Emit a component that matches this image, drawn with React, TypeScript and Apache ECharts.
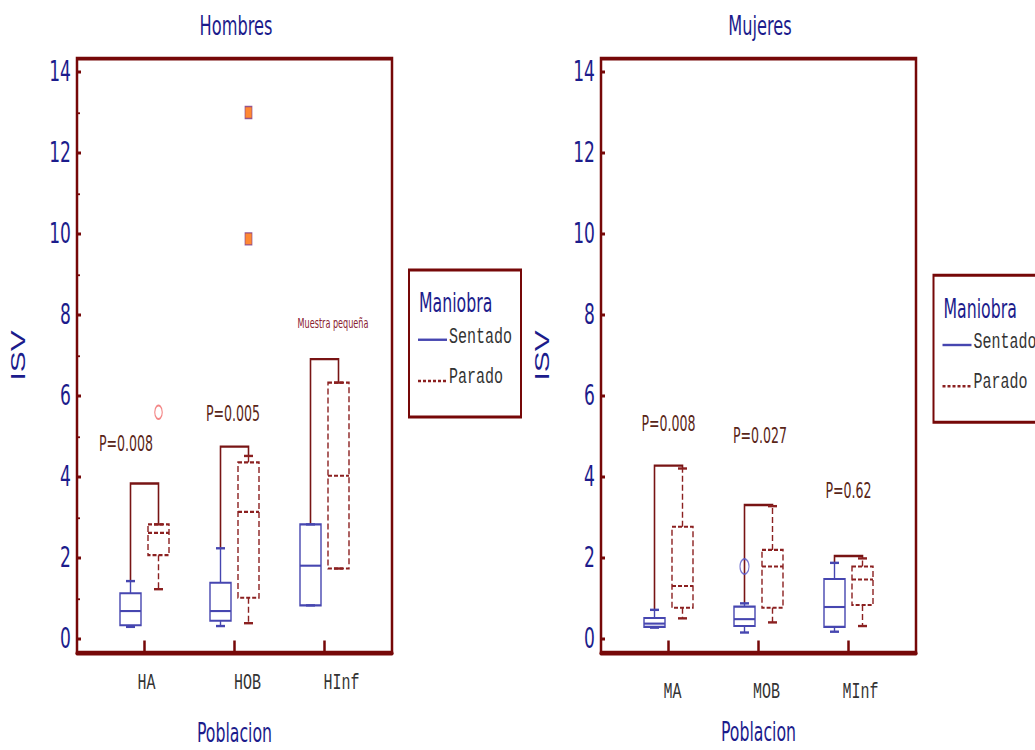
import React, { useEffect, useRef } from 'react';
import * as echarts from 'echarts';

// ---------------- data ----------------
const chartTitles = ['Hombres', 'Mujeres'];
const groupsH = ['HA', 'HOB', 'HInf'];
const groupsM = ['MA', 'MOB', 'MInf'];
const legendTitle = 'Maniobra';
const seriesNames = ['Sentado', 'Parado'];
const yAxisName = 'ISV';
const xAxisName = 'Poblacion';
const yMin = 0;
const yMax = 14;
const yStep = 2;

// [lower whisker, Q1, median, Q3, upper whisker]
const sentadoH = [
  [0.30, 0.34, 0.69, 1.13, 1.43],
  [0.32, 0.45, 0.69, 1.39, 2.24],
  [0.83, 0.83, 1.81, 2.83, 2.83],
];
const paradoH = [
  [1.23, 2.07, 2.62, 2.83, 2.83],
  [0.39, 1.02, 3.14, 4.36, 4.52],
  [1.74, 1.74, 4.03, 6.33, 6.33],
];
const sentadoM = [
  [0.28, 0.30, 0.38, 0.52, 0.72],
  [0.16, 0.32, 0.49, 0.80, 0.88],
  [0.18, 0.30, 0.79, 1.48, 1.88],
];
const paradoM = [
  [0.51, 0.77, 1.31, 2.77, 4.21],
  [0.41, 0.77, 1.79, 2.20, 3.28],
  [0.32, 0.84, 1.47, 1.79, 1.99],
];
// height of the comparison bracket
const bracketH = [3.84, 4.75, 6.91];
const bracketM = [4.28, 3.31, 2.05];
// annotations
const notesH = ['P=0.008', 'P=0.005', 'Muestra pequeña'];
const noteValH = [4.84, 5.58, 7.8];
const notesM = ['P=0.008', 'P=0.027', 'P=0.62'];
const noteValM = [5.33, 5.04, 3.68];
// outliers: [group index, value]
const paradoOutH = [[0, 5.6]];
const paradoFarH = [[1, 13.0], [1, 9.88]];
const sentadoOutM = [[1, 1.79]];

// ---------------- layout / style ----------------
const STRETCH = 1.5; // reference is stretched vertically
const CW = 1035;
const CH = 750 / STRETCH;
const SLOTS = 15;
const slotOf = (g: number) => 3 + 4 * g;
const OFF = 14;
const BOX_W = 21;
const CAP_W = 9;
const NARROW = "'Liberation Sans Narrow', 'Arial Narrow', 'DejaVu Sans Condensed', sans-serif";
const MONO = "'Liberation Mono', 'Courier New', monospace";
const SANS = "'Liberation Sans', Arial, sans-serif";
const NAVY = '#1c1c8c';
const FRAME = '#760808';
const BLUE = '#4646b0';
const RED = '#8b2020';
const BRACKET = '#781414';
const NOTE = '#5a2618';

const panels = [
  { left: 77, groups: groupsH, sentado: sentadoH, parado: paradoH, bracket: bracketH, notes: notesH, noteVal: noteValH,
    noteDx: [-18.5, -1.5, 8.5], labelDx: [2, 13, 17], labelMargin: 13, nameGap: 44.5, minor: true },
  { left: 601, groups: groupsM, sentado: sentadoM, parado: paradoM, bracket: bracketM, notes: notesM, noteVal: noteValM,
    noteDx: [0, 1.5, 0], labelDx: [4, 8, 12], labelMargin: 19, nameGap: 44, minor: false },
];
const PW = 315;
const FRAME_TOP = 39;
const FRAME_H = 396;
const DATA_TOP = 48;
const DATA_H = 378;

const boxRenderer = (side: number, color: string, dashed: boolean) => (params: any, api: any) => {
  const slot = api.value(0);
  const cx = api.coord([slot, 0])[0] + side * OFF;
  const py = (i: number) => api.coord([slot, api.value(i)])[1];
  const lo = py(1), q1 = py(2), med = py(3), q3 = py(4), hi = py(5);
  const st: any = { stroke: color, lineWidth: 1.4, fill: 'none' };
  if (dashed) st.lineDash = [4, 2];
  const cap = { stroke: color, lineWidth: 1.6 };
  const ch: any[] = [];
  if (q3 - hi > 0.5) ch.push({ type: 'line', shape: { x1: cx, y1: q3, x2: cx, y2: hi }, style: { ...st } });
  if (lo - q1 > 0.5) ch.push({ type: 'line', shape: { x1: cx, y1: q1, x2: cx, y2: lo }, style: { ...st } });
  ch.push({ type: 'line', shape: { x1: cx - CAP_W / 2, y1: hi, x2: cx + CAP_W / 2, y2: hi }, style: cap });
  ch.push({ type: 'line', shape: { x1: cx - CAP_W / 2, y1: lo, x2: cx + CAP_W / 2, y2: lo }, style: cap });
  ch.push({ type: 'rect', shape: { x: cx - BOX_W / 2, y: q3, width: BOX_W, height: q1 - q3 }, style: { ...st } });
  ch.push({ type: 'line', shape: { x1: cx - BOX_W / 2, y1: med, x2: cx + BOX_W / 2, y2: med }, style: { ...st } });
  return { type: 'group', children: ch };
};

const bracketRenderer = (params: any, api: any) => {
  const slot = api.value(0);
  const cx = api.coord([slot, 0])[0];
  const y = (i: number) => api.coord([slot, api.value(i)])[1];
  return {
    type: 'polyline',
    shape: { points: [[cx - OFF, y(2)], [cx - OFF, y(1)], [cx + OFF, y(1)], [cx + OFF, y(3)]] },
    style: { stroke: BRACKET, lineWidth: 1.6, fill: 'none' },
  };
};

const noteRenderer = (texts: string[]) => (params: any, api: any) => {
  const slot = api.value(0);
  const p = api.coord([slot, api.value(1)]);
  const text = texts[params.dataIndex];
  const isP = text.startsWith('P=');
  return {
    type: 'text',
    x: p[0] + api.value(2),
    y: p[1],
    style: {
      text,
      fill: isP ? NOTE : '#8a2030',
      fontSize: isP ? 14 : 9,
      fontFamily: NARROW,
      align: 'center',
      verticalAlign: 'middle',
    },
  };
};

function buildOption() {
  const grid: any[] = [];
  const xAxis: any[] = [];
  const yAxis: any[] = [];
  const series: any[] = [];
  const title: any[] = [];
  panels.forEach((p, k) => {
    const fi = k * 2;
    const di = k * 2 + 1;
    grid.push({ left: p.left, top: FRAME_TOP, width: PW, height: FRAME_H, show: true, borderColor: FRAME, borderWidth: 2.5, backgroundColor: 'transparent', containLabel: false, outerBoundsMode: 'none' });
    grid.push({ left: p.left, top: DATA_TOP, width: PW, height: DATA_H, containLabel: false, outerBoundsMode: 'none' });
    xAxis.push({ gridIndex: fi, type: 'value', show: false });
    yAxis.push({ gridIndex: fi, type: 'value', show: false });
    const slots = Array.from({ length: SLOTS }, (_, i) => {
      const g = (i - 3) / 4;
      return Number.isInteger(g) && g >= 0 && g < p.groups.length ? p.groups[g] : '·' + i;
    });
    const rich: any = {};
    p.labelDx.forEach((dx, g) => {
      rich['g' + g] = { fontFamily: MONO, fontSize: 15, color: '#333', padding: [0, 0, 0, 2 * dx] };
    });
    xAxis.push({
      gridIndex: di, type: 'category', data: slots, boundaryGap: false, offset: 9,
      axisLine: { show: true, onZero: false, lineStyle: { color: FRAME, width: 3 } },
      axisTick: { show: true, inside: true, length: 8, interval: (i: number) => i % 4 === 3, lineStyle: { color: FRAME, width: 2.5 } },
      axisLabel: {
        interval: (i: number) => i % 4 === 3,
        margin: p.labelMargin,
        formatter: (v: string) => { const g = p.groups.indexOf(v); return g < 0 ? '' : `{g${g}|${v}}`; },
        rich,
      },
      splitLine: { show: false },
      name: xAxisName, nameLocation: 'middle', nameGap: p.nameGap,
      nameTextStyle: { color: NAVY, fontSize: 17.5, fontFamily: NARROW },
    });
    yAxis.push({
      gridIndex: di, type: 'value', min: yMin, max: yMax, interval: yStep,
      axisLine: { show: false },
      axisTick: { show: true, inside: true, length: 4, lineStyle: { color: FRAME, width: 2 } },
      minorTick: { show: p.minor, splitNumber: 2, length: 3, lineStyle: { color: FRAME, width: 1.2 } },
      axisLabel: { margin: 6, color: NAVY, fontSize: 19, fontFamily: NARROW },
      splitLine: { show: false },
      name: yAxisName, nameLocation: 'middle', nameGap: 49, nameRotate: 90,
      nameTextStyle: { color: NAVY, fontSize: 21, fontFamily: SANS },
    });
    title.push({
      text: chartTitles[k], left: p.left + PW / 2 + 1.5, top: 8, textAlign: 'center', padding: 0,
      textStyle: { color: NAVY, fontSize: 18, fontWeight: 'normal', fontFamily: NARROW },
    });
    const ax = { xAxisIndex: di, yAxisIndex: di };
    series.push({
      type: 'custom', name: seriesNames[0] + ' ' + p.groups.join(''), ...ax,
      renderItem: boxRenderer(-1, BLUE, false),
      data: p.sentado.map((d, g) => [slotOf(g), ...d]),
      encode: { x: 0, y: [1, 2, 3, 4, 5] }, z: 3,
    });
    series.push({
      type: 'custom', name: seriesNames[1] + ' ' + p.groups.join(''), ...ax,
      renderItem: boxRenderer(1, RED, true),
      data: p.parado.map((d, g) => [slotOf(g), ...d]),
      encode: { x: 0, y: [1, 2, 3, 4, 5] }, z: 3,
    });
    series.push({
      type: 'custom', ...ax, renderItem: bracketRenderer,
      data: p.bracket.map((b, g) => [slotOf(g), b, p.sentado[g][4], p.parado[g][4]]),
      encode: { x: 0, y: 1 }, z: 2,
    });
    series.push({
      type: 'custom', ...ax, renderItem: noteRenderer(p.notes),
      data: p.noteVal.map((v, g) => [slotOf(g), v, p.noteDx[g]]),
      encode: { x: 0, y: 1 }, z: 4,
    });
  });
  // outliers
  series.push({
    type: 'scatter', xAxisIndex: 1, yAxisIndex: 1, symbol: 'circle', symbolSize: [7.5, 9], symbolOffset: [OFF, 0],
    itemStyle: { color: 'transparent', borderColor: '#f06868', borderWidth: 1.2 },
    data: paradoOutH.map(([g, v]) => [slotOf(g), v]), z: 5,
  });
  series.push({
    type: 'scatter', xAxisIndex: 1, yAxisIndex: 1, symbol: 'rect', symbolSize: [7, 8], symbolOffset: [OFF, 0],
    itemStyle: { color: '#ff6a00', borderColor: '#7a3a8a', borderWidth: 0.8 },
    data: paradoFarH.map(([g, v]) => [slotOf(g), v]), z: 5,
  });
  series.push({
    type: 'scatter', xAxisIndex: 3, yAxisIndex: 3, symbol: 'circle', symbolSize: [9, 10], symbolOffset: [-OFF, 0],
    itemStyle: { color: 'transparent', borderColor: '#5a5ac8', borderWidth: 1.2 },
    data: sentadoOutM.map(([g, v]) => [slotOf(g), v]), z: 5,
  });

  const legendBox = (x: number, y: number, w: number) => ({
    type: 'group',
    children: [
      { type: 'rect', shape: { x, y, width: w, height: 98 }, style: { fill: '#fff', stroke: FRAME, lineWidth: 2 } },
      { type: 'text', x: x + 10, y: y + 22, style: { text: legendTitle, fill: NAVY, fontSize: 17.5, fontFamily: NARROW, verticalAlign: 'middle' } },
      { type: 'line', shape: { x1: x + 9, y1: y + 46.5, x2: x + 38, y2: y + 46.5 }, style: { stroke: BLUE, lineWidth: 1.6 } },
      { type: 'text', x: x + 40, y: y + 44.5, style: { text: seriesNames[0], fill: '#333', fontSize: 15, fontFamily: MONO, verticalAlign: 'middle' } },
      { type: 'line', shape: { x1: x + 9, y1: y + 74, x2: x + 38, y2: y + 74 }, style: { stroke: RED, lineWidth: 1.6, lineDash: [3, 2] } },
      { type: 'text', x: x + 40, y: y + 71.5, style: { text: seriesNames[1], fill: '#333', fontSize: 15, fontFamily: MONO, verticalAlign: 'middle' } },
    ],
  });

  return {
    animation: false,
    backgroundColor: '#fff',
    title,
    grid,
    xAxis,
    yAxis,
    series,
    graphic: [legendBox(409, 180, 112), legendBox(933.5, 183.5, 115)],
  };
}

export default function App() {
  const ref = useRef<HTMLDivElement>(null);
  useEffect(() => {
    if (!ref.current) return;
    const chart = echarts.init(ref.current, null, { renderer: 'svg' });
    chart.setOption(buildOption() as any);
    return () => chart.dispose();
  }, []);
  return (
    <div style={{ position: 'absolute', left: 0, top: 0, width: CW, height: 750, overflow: 'hidden', background: '#fff' }}>
      <div ref={ref} style={{ width: CW, height: CH, transform: `scaleY(${STRETCH})`, transformOrigin: '0 0' }} />
    </div>
  );
}
